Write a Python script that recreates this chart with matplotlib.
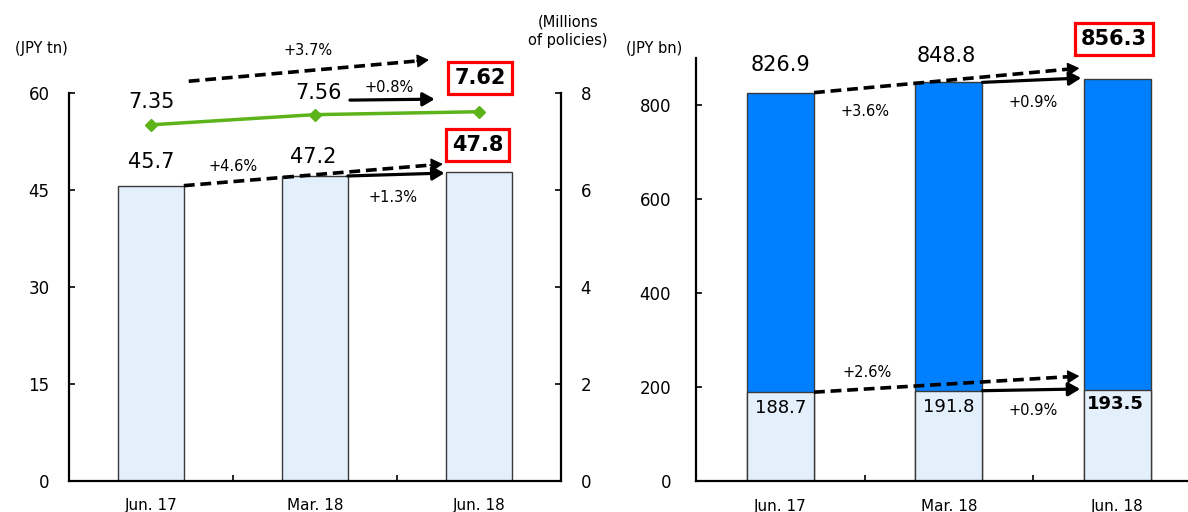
import matplotlib
matplotlib.use("Agg")
import matplotlib.pyplot as plt

plt.rcParams['font.family'] = ['DejaVu Sans']

categories = ["Jun. 17", "Mar. 18", "Jun. 18"]
# Left chart
assets_tn = [45.7, 47.2, 47.8]
policies_m = [7.35, 7.56, 7.62]
# Right chart
total_bn = [826.9, 848.8, 856.3]
lower_bn = [188.7, 191.8, 193.5]

LIGHT = "#E4EFFC"
BLUE = "#0080FF"
GREEN = "#5CB31A"
EDGE = "#3A3A3A"

fig = plt.figure(figsize=(11.88, 5.12), dpi=100)
ax1 = fig.add_axes([0.0581, 0.0611, 0.4141, 0.7566])
ax2 = ax1.twinx()
ax3 = fig.add_axes([0.5859, 0.0611, 0.4255, 0.825])

x = list(range(len(categories)))
W = 0.4

def style(ax, right=False):
    for s in ["top"]:
        ax.spines[s].set_visible(False)
    if not right:
        ax.spines["right"].set_visible(False)
    for s in ["left", "bottom", "right"]:
        ax.spines[s].set_linewidth(1.6)
    ax.tick_params(direction="in", length=4, width=1.2, labelsize=12)

# ---------- Left chart ----------
ax1.bar(x, assets_tn, width=W, color=LIGHT, edgecolor=EDGE, linewidth=1, zorder=2)
ax1.set_xlim(-0.5, 2.5)
ax1.set_ylim(0, 60)
ax1.set_yticks([0, 15, 30, 45, 60])
ax1.set_xticks([0.5, 1.5])
ax1.set_xticklabels([])
for i, c in enumerate(categories):
    ax1.text(i, -0.065, c, transform=ax1.get_xaxis_transform(), ha="center", va="center", fontsize=11)
style(ax1, right=True)
ax1.tick_params(axis="y", pad=14)
ax1.spines["right"].set_visible(False)

ax2.plot(x, policies_m, color=GREEN, lw=2.5, marker="D", ms=6, zorder=3)
ax2.set_ylim(0, 8)
ax2.set_yticks([0, 2, 4, 6, 8])
for s in ["top", "left", "bottom"]:
    ax2.spines[s].set_visible(False)
ax2.spines["right"].set_linewidth(1.6)
ax2.tick_params(direction="in", length=4, width=1.2, labelsize=12, pad=14)

def arrow(ax, p0, p1, dashed=False):
    if dashed:
        ax.plot([p0[0], p1[0] - (p1[0]-p0[0])*0.03], [p0[1], p1[1] - (p1[1]-p0[1])*0.03],
                color="black", lw=2.6, ls=(0, (3, 1.6)), clip_on=False, zorder=5)
        start = (p1[0] - (p1[0]-p0[0])*0.05, p1[1] - (p1[1]-p0[1])*0.05)
        ax.annotate("", xy=p1, xytext=start, annotation_clip=False,
                    arrowprops=dict(arrowstyle="-|>,head_length=0.7,head_width=0.4",
                                    color="black", lw=1.2, mutation_scale=10, shrinkA=0, shrinkB=0), zorder=5)
    else:
        ax.annotate("", xy=p1, xytext=p0, annotation_clip=False,
                    arrowprops=dict(arrowstyle="-|>,head_length=0.7,head_width=0.4",
                                    color="black", lw=2.3, mutation_scale=10, shrinkA=0, shrinkB=0), zorder=5)

# lower (assets) arrows
arrow(ax1, (0.2, assets_tn[0]), (1.78, 49.05), dashed=True)
arrow(ax1, (1.2, assets_tn[1]), (1.79, 47.65))
ax1.text(0.5, 48.7, "+4.6%", ha="center", va="center", fontsize=10.5)
ax1.text(1.475, 43.9, "+1.3%", ha="center", va="center", fontsize=10.5)
ax1.text(0, 49.3, f"{assets_tn[0]}", ha="center", va="center", fontsize=15)
ax1.text(0.99, 50.1, f"{assets_tn[1]}", ha="center", va="center", fontsize=15)
ax1.text(1.99, 52.0, f"{assets_tn[2]}", ha="center", va="center", fontsize=15, fontweight="bold",
         bbox=dict(boxstyle="square,pad=0.28", fc="white", ec="#FF0000", lw=2.3))

# upper (policies) arrows
arrow(ax2, (0.23, 8.25), (1.695, 8.69), dashed=True)
arrow(ax2, (1.213, 7.86), (1.73, 7.88))
ax2.text(0.957, 8.894, "+3.7%", ha="center", va="center", fontsize=10.5, clip_on=False)
ax2.text(1.45, 8.13, "+0.8%", ha="center", va="center", fontsize=10.5, clip_on=False)
ax2.text(0, 7.82, f"{policies_m[0]}", ha="center", va="center", fontsize=15)
ax2.text(1.02, 8.01, f"{policies_m[1]}", ha="center", va="center", fontsize=15, clip_on=False)
ax2.text(2.006, 8.32, f"{policies_m[2]}", ha="center", va="center", fontsize=15, fontweight="bold",
         clip_on=False, bbox=dict(boxstyle="square,pad=0.3", fc="white", ec="#FF0000", lw=2.3))

fig.text(41.5/1188, 1-49/512, "(JPY tn)", ha="center", va="center", fontsize=10.5)
fig.text(568/1188, 1-31/512, "(Millions\nof policies)", ha="center", va="center", fontsize=10.5, linespacing=1.25)

# ---------- Right chart ----------
ax3.bar(x, total_bn, width=W, color=BLUE, edgecolor=EDGE, linewidth=1, zorder=2)
ax3.bar(x, lower_bn, width=W, color=LIGHT, edgecolor=EDGE, linewidth=1, zorder=2)
ax3.set_xlim(-0.5, 2.5)
ax3.set_ylim(0, 900)
ax3.set_yticks([0, 200, 400, 600, 800])
ax3.set_xticks([0.5, 1.5])
ax3.set_xticklabels([])
for i, c in enumerate(categories):
    ax3.text(i, -0.06, c, transform=ax3.get_xaxis_transform(), ha="center", va="center", fontsize=11)
style(ax3)
ax3.tick_params(axis="y", pad=18)

arrow(ax3, (0.2, total_bn[0]), (1.775, 879), dashed=True)
arrow(ax3, (1.2, total_bn[1]), (1.786, 858))
arrow(ax3, (0.2, lower_bn[0]), (1.775, 223), dashed=True)
arrow(ax3, (1.2, lower_bn[1]), (1.78, 195.4))
ax3.text(0, 885.5, f"{total_bn[0]}", ha="center", va="center", fontsize=15)
ax3.text(0.985, 904.8, f"{total_bn[1]}", ha="center", va="center", fontsize=15, clip_on=False)
ax3.text(1.98, 941, f"{total_bn[2]}", ha="center", va="center", fontsize=15, fontweight="bold",
         clip_on=False, bbox=dict(boxstyle="square,pad=0.3", fc="white", ec="#FF0000", lw=2.3))
ax3.text(0.5, 787.6, "+3.6%", ha="center", va="center", fontsize=10.5)
ax3.text(1.5, 806.8, "+0.9%", ha="center", va="center", fontsize=10.5)
ax3.text(0.516, 231.5, "+2.6%", ha="center", va="center", fontsize=10.5)
ax3.text(1.5, 150.6, "+0.9%", ha="center", va="center", fontsize=10.5)
ax3.text(0, 155, f"{lower_bn[0]}", ha="center", va="center", fontsize=13, zorder=4)
ax3.text(1.0, 157, f"{lower_bn[1]}", ha="center", va="center", fontsize=13, zorder=4)
ax3.text(1.99, 163.4, f"{lower_bn[2]}", ha="center", va="center", fontsize=13, fontweight="bold", zorder=4)
fig.text(654/1188, 1-48/512, "(JPY bn)", ha="center", va="center", fontsize=10.5)

fig.savefig("out.png", dpi=100)
